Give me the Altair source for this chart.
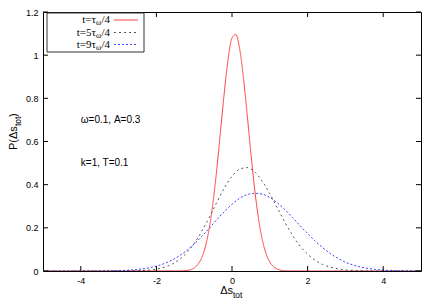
import altair as alt
import pandas as pd

# ---- data ----
red_x = [-5.0, -1.4, -1.3, -1.2, -1.1, -1.0, -0.9, -0.8, -0.7, -0.6, -0.5, -0.4, -0.3, -0.2, -0.1,
         0.0, 0.1, 0.2, 0.3, 0.4, 0.5, 0.6, 0.7, 0.8, 0.9, 1.0, 1.1, 1.2, 1.3, 1.4, 1.5, 5.0]
red_y = [0.0, 0.0002, 0.0009, 0.0024, 0.0061, 0.0143, 0.031, 0.062, 0.116, 0.200, 0.321, 0.476,
         0.655, 0.834, 0.985, 1.080, 1.096, 1.032, 0.900, 0.728, 0.545, 0.379, 0.244, 0.146, 0.081,
         0.041, 0.020, 0.0087, 0.0035, 0.0013, 0.0004, 0.0]

black_x = [-5.0, -3.0, -2.8, -2.6, -2.4, -2.2, -2.0, -1.8, -1.6, -1.4, -1.2, -1.0, -0.8, -0.6, -0.4,
           -0.2, 0.0, 0.2, 0.4, 0.6, 0.8, 1.0, 1.2, 1.4, 1.6, 1.8, 2.0, 2.2, 2.4, 2.6, 2.8, 3.0,
           3.2, 3.4, 3.6, 5.0]
black_y = [0.0, 0.0001, 0.0004, 0.0009, 0.0020, 0.0043, 0.0087, 0.0168, 0.0304, 0.052, 0.084,
           0.128, 0.184, 0.249, 0.319, 0.385, 0.439, 0.472, 0.479, 0.459, 0.416, 0.358, 0.292,
           0.226, 0.166, 0.116, 0.078, 0.050, 0.030, 0.018, 0.010, 0.005, 0.0025, 0.0011, 0.0004, 0.0]

blue_x = [-5.0, -4.0, -3.6, -3.4, -3.2, -3.0, -2.8, -2.6, -2.4, -2.2, -2.0, -1.8, -1.6, -1.4, -1.2,
          -1.0, -0.8, -0.6, -0.4, -0.2, 0.0, 0.2, 0.4, 0.6, 0.8, 1.0, 1.2, 1.4, 1.6, 1.8, 2.0,
          2.2, 2.4, 2.6, 2.8, 3.0, 3.2, 3.4, 3.6, 3.8, 4.0, 4.2, 4.4, 4.6, 4.8, 5.0]
blue_y = [0.0, 0.0001, 0.0003, 0.0005, 0.0010, 0.0018, 0.0032, 0.0054, 0.0090, 0.0145, 0.0225,
          0.0338, 0.0493, 0.0695, 0.0948, 0.1253, 0.160, 0.198, 0.238, 0.276, 0.309, 0.336, 0.354,
          0.360, 0.356, 0.341, 0.316, 0.284, 0.248, 0.210, 0.174, 0.139, 0.108, 0.081, 0.059,
          0.041, 0.028, 0.019, 0.012, 0.0075, 0.0045, 0.0027, 0.0015, 0.0008, 0.0004, 0.0002]

x_ticks = [-4, -2, 0, 2, 4]
y_ticks = [0, 0.2, 0.4, 0.6, 0.8, 1, 1.2]

legend_main = ["t=\u03c4", "t=5\u03c4", "t=9\u03c4"]
legend_colors = ["#ff4040", "#555555", "#4040ff"]
legend_dashes = [[1, 0], [2, 3], [2, 2]]

notes = ["\u03c9=0.1, A=0.3", "k=1, T=0.1"]
notes_x = [-4.0, -4.0]
notes_y = [0.70, 0.50]

W, H = 378, 259
SANS = "Liberation Sans"
SERIF = "Liberation Serif"

xs = alt.Scale(domain=[-5, 5], nice=False, zero=False)
ys = alt.Scale(domain=[0, 1.2], nice=False, zero=False)

x_axis = alt.Axis(values=x_ticks, ticks=False, domain=False, grid=False, labelPadding=5,
                  labelFontSize=9, labelFont=SANS, labelColor="black",
                  labelExpr="datum.value + ''", title=None)
y_axis = alt.Axis(values=y_ticks, ticks=False, domain=False, grid=False, labelPadding=5,
                  labelFontSize=9, labelFont=SANS, labelColor="black",
                  labelExpr="datum.value + ''", title=None)


def curve(xv, yv, color, dash):
    df = pd.DataFrame({"x": xv, "y": yv})
    return alt.Chart(df).mark_line(color=color, strokeWidth=1, strokeDash=dash,
                                   interpolate="monotone", clip=True).encode(
        x=alt.X("x:Q", scale=xs, axis=x_axis),
        y=alt.Y("y:Q", scale=ys, axis=y_axis),
    )


red = curve(red_x, red_y, legend_colors[0], legend_dashes[0])
black = curve(black_x, black_y, legend_colors[1], legend_dashes[1])
blue = curve(blue_x, blue_y, legend_colors[2], legend_dashes[2])

ydf = pd.DataFrame({"v": y_ticks})
xdf = pd.DataFrame({"v": x_ticks})
tk = dict(color="black", strokeWidth=1)
ticks = [
    alt.Chart(ydf).mark_rule(**tk).encode(y=alt.Y("v:Q", scale=ys, axis=y_axis), x=alt.value(0), x2=alt.value(5)),
    alt.Chart(ydf).mark_rule(**tk).encode(y=alt.Y("v:Q", scale=ys, axis=y_axis), x=alt.value(W - 5), x2=alt.value(W)),
    alt.Chart(xdf).mark_rule(**tk).encode(x=alt.X("v:Q", scale=xs, axis=x_axis), y=alt.value(H - 5), y2=alt.value(H)),
    alt.Chart(xdf).mark_rule(**tk).encode(x=alt.X("v:Q", scale=xs, axis=x_axis), y=alt.value(0), y2=alt.value(5)),
]

one = pd.DataFrame({"a": [0]})
legend_layers = [
    alt.Chart(one).mark_rect(fill="white", stroke="#333333", strokeWidth=1).encode(
        x=alt.value(4), x2=alt.value(101), y=alt.value(1), y2=alt.value(40))
]
rows_y = [8, 20.5, 32.5]
for i in range(3):
    ry = rows_y[i]
    legend_layers.append(alt.Chart(one).mark_rule(color=legend_colors[i], strokeWidth=1,
                                                  strokeDash=legend_dashes[i]).encode(
        x=alt.value(71), x2=alt.value(95), y=alt.value(ry)))
    legend_layers.append(alt.Chart(one).mark_text(text=legend_main[i], font=SERIF, fontSize=11,
                                                  align="right", baseline="middle", color="black").encode(
        x=alt.value(53), y=alt.value(ry)))
    legend_layers.append(alt.Chart(one).mark_text(text="\u03c9", font=SERIF, fontSize=8,
                                                  align="left", baseline="middle", color="black").encode(
        x=alt.value(53), y=alt.value(ry + 3)))
    legend_layers.append(alt.Chart(one).mark_text(text="/4", font=SERIF, fontSize=11,
                                                  align="left", baseline="middle", color="black").encode(
        x=alt.value(58.5), y=alt.value(ry)))

ndf = pd.DataFrame({"x": notes_x, "y": notes_y, "t": notes})
note_layer = alt.Chart(ndf).mark_text(font=SANS, fontSize=10, align="left", baseline="middle",
                                      color="black").encode(
    x=alt.X("x:Q", scale=xs, axis=x_axis), y=alt.Y("y:Q", scale=ys, axis=y_axis), text="t:N")

titles = [
    alt.Chart(one).mark_text(text="\u0394s", font=SANS, fontSize=11, align="right",
                             baseline="alphabetic", color="black").encode(x=alt.value(190), y=alt.value(282)),
    alt.Chart(one).mark_text(text="tot", font=SANS, fontSize=8.5, align="left",
                             baseline="alphabetic", color="black").encode(x=alt.value(190), y=alt.value(285.5)),
    alt.Chart(one).mark_text(text="P(\u0394s", font=SANS, fontSize=11, align="left", angle=270,
                             baseline="alphabetic", color="black").encode(x=alt.value(-26), y=alt.value(138)),
    alt.Chart(one).mark_text(text="tot", font=SANS, fontSize=8.5, align="left", angle=270,
                             baseline="alphabetic", color="black").encode(x=alt.value(-22.5), y=alt.value(114)),
    alt.Chart(one).mark_text(text=")", font=SANS, fontSize=11, align="left", angle=270,
                             baseline="alphabetic", color="black").encode(x=alt.value(-26), y=alt.value(105)),
]

chart = alt.layer(red, black, blue, *ticks, note_layer, *legend_layers, *titles).properties(
    width=W, height=H,
    padding={"left": 35, "top": 4, "right": 7, "bottom": 40},
    autosize=alt.AutoSizeParams(type="none"),
).configure_view(stroke="black", strokeWidth=1)

chart.save("out.html", embed_options={"renderer": "svg", "actions": False})
